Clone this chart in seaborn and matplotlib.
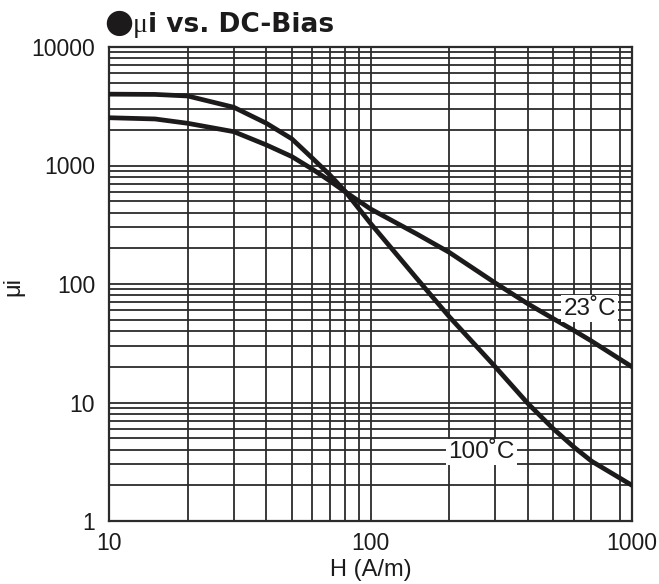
import numpy as np
import pandas as pd
import matplotlib
matplotlib.use("Agg")
import matplotlib.pyplot as plt
import seaborn as sns
from matplotlib.ticker import FixedLocator, FixedFormatter, NullFormatter

# ---- data ----
H = [10, 15, 20, 30, 40, 50, 60, 70, 80, 100, 150, 200, 300, 400, 500, 600, 700, 1000]
mu_23C = [2530, 2470, 2270, 1930, 1490, 1190, 930, 740, 600, 430, 265, 185, 102, 68, 51, 40.5, 33, 20]
mu_100C = [4000, 3980, 3860, 3100, 2270, 1680, 1150, 830, 605, 325, 112, 53, 20, 9.8, 6.0, 4.2, 3.2, 2.0]
series_labels = ["23˚C", "100˚C"]
x_major = [10, 100, 1000]
x_minor = [20, 30, 40, 50, 60, 70, 80, 90, 200, 300, 400, 500, 600, 700, 900]
y_major = [1, 10, 100, 1000, 10000]
y_minor = [m * d for d in [1, 10, 100, 1000] for m in range(2, 10)]

df = pd.DataFrame({
    "H": H * 2,
    "mu": mu_23C + mu_100C,
    "T": [series_labels[0]] * len(H) + [series_labels[1]] * len(H),
})

sns.set_theme(style="white")
plt.rcParams["font.family"] = ["Liberation Sans", "DejaVu Sans"]

ink = "#1c1a1a"
fig = plt.figure(figsize=(6.59, 5.84), dpi=100)
ax = fig.add_axes([109 / 659, 1 - 521 / 584, (632 - 109) / 659, (521 - 47) / 584])

sns.lineplot(data=df, x="H", y="mu", units="T", estimator=None, sort=False,
             color=ink, lw=3.4, ax=ax, legend=False, zorder=3)

ax.set_xscale("log")
ax.set_yscale("log")
ax.set_xlim(10, 1000)
ax.set_ylim(1, 10000)

ax.xaxis.set_major_locator(FixedLocator(x_major))
ax.xaxis.set_major_formatter(FixedFormatter([str(v) for v in x_major]))
ax.xaxis.set_minor_locator(FixedLocator(x_minor))
ax.xaxis.set_minor_formatter(NullFormatter())
ax.yaxis.set_major_locator(FixedLocator(y_major))
ax.yaxis.set_major_formatter(FixedFormatter([str(v) for v in y_major]))
ax.yaxis.set_minor_locator(FixedLocator(y_minor))
ax.yaxis.set_minor_formatter(NullFormatter())

ax.grid(which="both", color="#2b2b2b", lw=1.3, zorder=1)
ax.set_axisbelow(True)
for s in ax.spines.values():
    s.set_color("#2b2b2b")
    s.set_linewidth(1.6)
ax.tick_params(which="both", length=0, labelsize=16.5, colors=ink)
ax.tick_params(axis="y", pad=10)
ax.tick_params(axis="x", pad=8)

ax.set_xlabel("H (A/m)", fontsize=17, color=ink, labelpad=3)
ax.set_ylabel("")
fig.text(13 / 659, 1 - 286 / 584, "μi", fontsize=17, color=ink, rotation=90,
         ha="center", va="center")

# curve labels
box = dict(facecolor="white", edgecolor="none", pad=1.5)
ax.text(690, 62, series_labels[0], fontsize=17.5, ha="center", va="center",
        color=ink, bbox=box, zorder=4)
ax.text(265, 3.8, series_labels[1], fontsize=17.5, ha="center", va="center",
        color=ink, bbox=box, zorder=4)

# title: bullet + serif mu + bold sans text, on a common baseline
base = 1 - 32 / 584
t1 = fig.text(104 / 659, base, "●", fontsize=24, color=ink,
              family=["DejaVu Sans"], va="baseline", ha="left")
t2 = ax.annotate("μ", xy=(1, base), xycoords=(t1, "figure fraction"), fontsize=20,
                 color=ink, family=["Liberation Serif"], va="baseline", ha="left",
                 annotation_clip=False)
t3 = ax.annotate("i vs. DC-Bias", xy=(1, base), xycoords=(t2, "figure fraction"),
                 fontsize=19, fontweight="bold", color=ink, family=["DejaVu Sans"],
                 va="baseline", ha="left", annotation_clip=False)

fig.savefig("out.png", dpi=100, facecolor="white")
